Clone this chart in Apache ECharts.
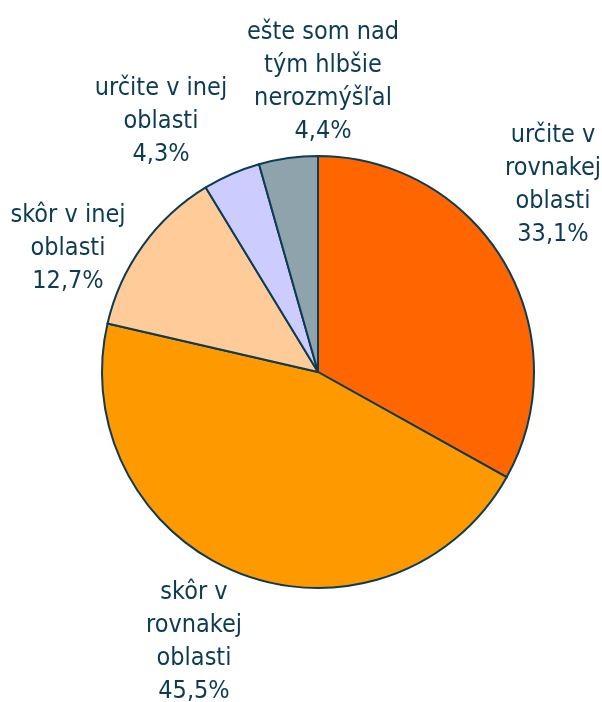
<!DOCTYPE html>
<html>
<head>
<meta charset="utf-8">
<script src="https://cdn.jsdelivr.net/npm/echarts@6/dist/echarts.min.js"></script>
<style>
  html, body { margin: 0; padding: 0; background: #fff; }
  #chart { width: 602px; height: 702px; }
</style>
</head>
<body>
<div id="chart"></div>
<script>
// Slices, clockwise from 12 o'clock
const names = [
  'určite v\nrovnakej\noblasti',
  'skôr v\nrovnakej\noblasti',
  'skôr v inej\noblasti',
  'určite v inej\noblasti',
  'ešte som nad\ntým hlbšie\nnerozmýšľal'
];
const values = [33.1, 45.5, 12.7, 4.3, 4.4];
const colors = ['#FF6600', '#FF9900', '#FFCC99', '#CCCCFF', '#8FA3AD'];

// label centres (x, y) as placed in the reference
const labelPos = [[553, 185], [194, 642], [68, 248], [161, 121], [323, 82]];

const chart = echarts.init(document.getElementById('chart'));

chart.setOption({
  animation: false,
  series: [{
    type: 'pie',
    center: [318, 372],
    radius: 216,
    startAngle: 90,
    clockwise: true,
    itemStyle: { borderColor: '#0D3B54', borderWidth: 2 },
    label: {
      show: true,
      position: 'outside',
      color: '#0D3B54',
      fontFamily: '"DejaVu Sans Condensed", "DejaVu Sans", sans-serif',
      fontSize: 25,
      lineHeight: 33,
      align: 'center',
      overflow: 'none',
      formatter: (p) => p.name + '\n' + p.value.toFixed(1).replace('.', ',') + '%'
    },
    labelLine: { show: false },
    labelLayout: (params) => {
      const pos = labelPos[params.dataIndex];
      return { x: pos[0], y: pos[1], align: 'center', verticalAlign: 'middle', hideOverlap: false };
    },
    data: values.map((v, i) => ({ name: names[i], value: v, itemStyle: { color: colors[i] } }))
  }]
});
</script>
</body>
</html>
